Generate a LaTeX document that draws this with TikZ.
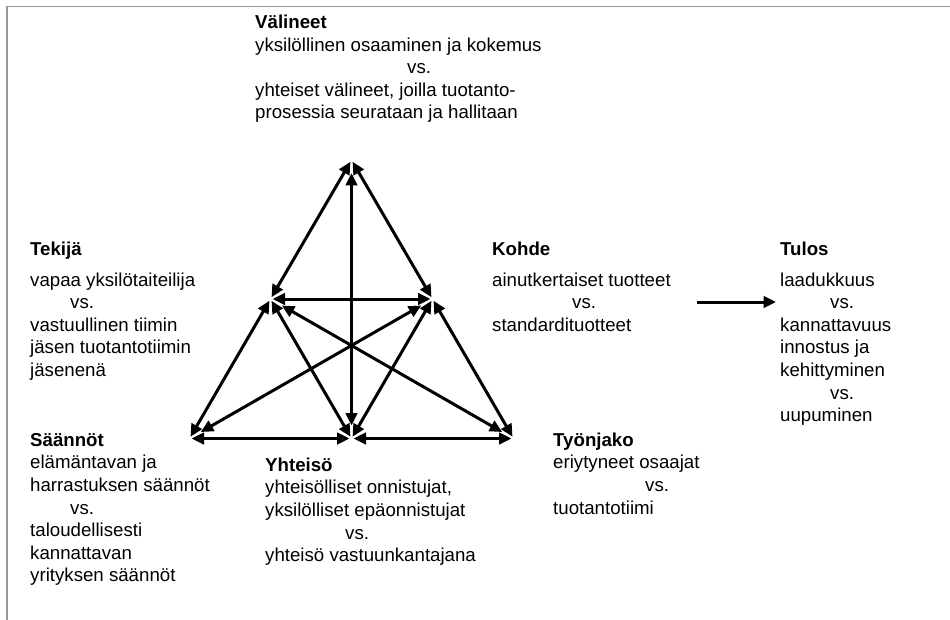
\documentclass[tikz,border=0pt]{standalone}
\usepackage{fontspec}
\setmainfont{Liberation Sans}
\usetikzlibrary{arrows.meta}
\newcommand\blockfont{\fontsize{18.67}{22.6}\selectfont}

\begin{document}
\begin{tikzpicture}[x=1pt,y=-1pt,
  frameline/.style={draw={rgb,255:red,150;green,150;blue,150}, line width=1.2pt},
  block/.style={anchor=north west, inner sep=0pt, align=left, font=\blockfont},
  tip/.tip={Triangle[length=12.5pt,width=11.5pt]},
  link/.style={line width=3pt, tip-tip, shorten <=2pt, shorten >=2pt},
  longlink/.style={line width=3pt, tip-tip, shorten <=13pt, shorten >=13pt},
  flow/.style={line width=3pt, -tip}]
\useasboundingbox (0,0) rectangle (950,620);

% thin frame along the top and left edges
\draw[frameline] (7,620) -- (7,6.5) -- (950,6.5);

% corners of the activity triangle
\coordinate (T)  at (351.5,160);
\coordinate (L)  at (270.5,299);
\coordinate (R)  at (432.5,299);
\coordinate (BL) at (189.5,438.5);
\coordinate (BM) at (351.5,438.5);
\coordinate (BR) at (513.5,438.5);

% text blocks (top = first baseline - 15.8)
\node[block] (valineet) at (255,12.5) {\textbf{\strut Välineet}\\
  yksilöllinen osaaminen ja kokemus\\
  \hspace*{152pt}vs.\\
  yhteiset välineet, joilla tuotanto-\\
  prosessia seurataan ja hallitaan};

\node[block] (tekija) at (30,239.5) {\textbf{\strut Tekijä}\\[8pt]
  vapaa yksilötaiteilija\\
  \hspace*{40pt}vs.\\
  vastuullinen tiimin\\
  jäsen tuotantotiimin\\
  jäsenenä};

\node[block] (kohde) at (492,239.5) {\textbf{\strut Kohde}\\[8pt]
  ainutkertaiset tuotteet\\
  \hspace*{80pt}vs.\\
  standardituotteet};

\node[block] (tulos) at (780,239.5) {\textbf{\strut Tulos}\\[8pt]
  laadukkuus\\
  \hspace*{50pt}vs.\\
  kannattavuus\\
  innostus ja\\
  kehittyminen\\
  \hspace*{50pt}vs.\\
  uupuminen};

\node[block] (saannot) at (30,430.2) {\textbf{\strut Säännöt}\\
  elämäntavan ja\\
  harrastuksen säännöt\\
  \hspace*{40pt}vs.\\
  taloudellisesti\\
  kannattavan\\
  yrityksen säännöt};

\node[block] (yhteiso) at (265,455.2) {\textbf{\strut Yhteisö}\\
  yhteisölliset onnistujat,\\
  yksilölliset epäonnistujat\\
  \hspace*{80pt}vs.\\
  yhteisö vastuunkantajana};

\node[block] (tyonjako) at (553,430.2) {\textbf{\strut Työnjako}\\
  eriytyneet osaajat\\
  \hspace*{92pt}vs.\\
  tuotantotiimi};

% two-way links between the corners
\draw[link] (T) -- (L);
\draw[link] (T) -- (R);
\draw[longlink] (T) -- (BM);
\draw[link] (L) -- (R);
\draw[link] (L) -- (BL);
\draw[link] (L) -- (BM);
\draw[link] (R) -- (BM);
\draw[link] (R) -- (BR);
\draw[link] (BL) -- (BM);
\draw[link] (BM) -- (BR);
\draw[longlink] (BL) -- (R);
\draw[longlink] (BR) -- (L);

% object leads to outcome
\coordinate (kstart) at (697,302);
\coordinate (tend) at (776,302);
\draw[flow] (kstart) -- (tend);
\end{tikzpicture}
\end{document}
